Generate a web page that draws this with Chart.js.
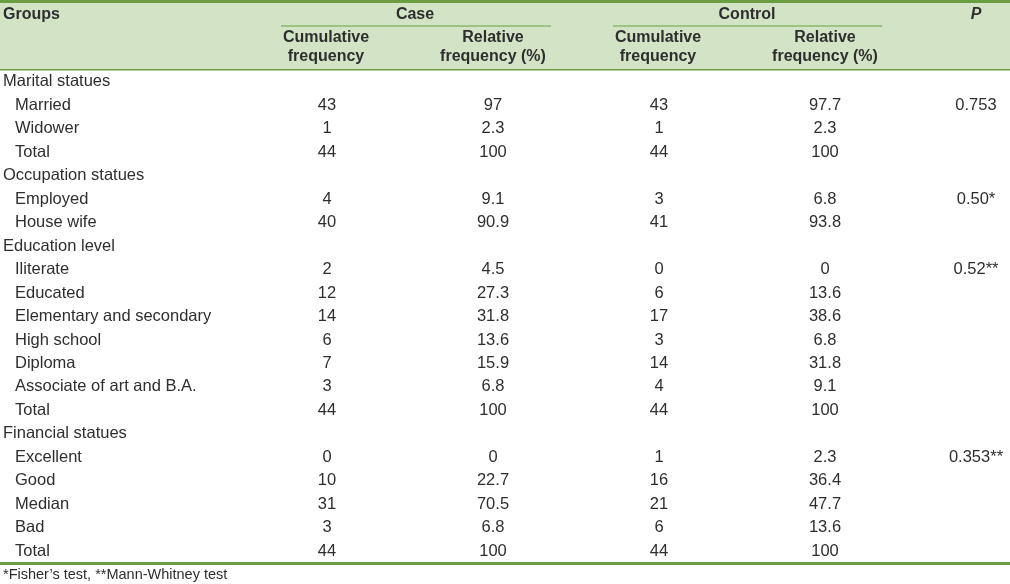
<!DOCTYPE html>
<html>
<head>
<meta charset="utf-8">
<script src="https://cdn.jsdelivr.net/npm/chart.js@4"></script>
<style>
  html, body { margin: 0; padding: 0; background: #fff; }
  #tableChart { display: block; }
</style>
</head>
<body>
<canvas id="tableChart" width="1010" height="584"></canvas>
<script>
// Table data
const rowLabels = ['Marital statues', 'Married', 'Widower', 'Total',
    'Occupation statues', 'Employed', 'House wife',
    'Education level', 'Iliterate', 'Educated', 'Elementary and secondary', 'High school',
    'Diploma', 'Associate of art and B.A.', 'Total',
    'Financial statues', 'Excellent', 'Good', 'Median', 'Bad', 'Total'];
const groupRows = [0, 4, 7, 15];
const caseCum = [null, 43, 1, 44, null, 4, 40, null, 2, 12, 14, 6, 7, 3, 44, null, 0, 10, 31, 3, 44];
const caseRel = [null, 97, 2.3, 100, null, 9.1, 90.9, null, 4.5, 27.3, 31.8, 13.6, 15.9, 6.8, 100, null, 0, 22.7, 70.5, 6.8, 100];
const ctrlCum = [null, 43, 1, 44, null, 3, 41, null, 0, 6, 17, 3, 14, 4, 44, null, 1, 16, 21, 6, 44];
const ctrlRel = [null, 97.7, 2.3, 100, null, 6.8, 93.8, null, 0, 13.6, 38.6, 6.8, 31.8, 9.1, 100, null, 2.3, 36.4, 47.7, 13.6, 100];
const pLabels = [null, '0.753', null, null, null, '0.50*', null, null, '0.52**', null, null, null,
    null, null, null, null, '0.353**', null, null, null, null];
const footnote = '*Fisher\u2019s test, **Mann-Whitney test';

// layout (x positions on the linear x scale)
const colX = { group: 3, item: 15, caseCum: 327, caseRel: 493, ctrlCum: 659, ctrlRel: 825, p: 976 };
const green = '#6b9d42';
const headBg = '#d3e4c6';
const textColor = '#2e2e2e';
const FONT = '"Liberation Sans", Arial, sans-serif';

function cellData(values, x) {
    const out = [];
    values.forEach((v, i) => {
        if (v !== null) out.push({ x: x, y: i, text: String(v) });
    });
    return out;
}

const labelData = rowLabels.map((t, i) => ({
    x: groupRows.includes(i) ? colX.group : colX.item, y: i, text: t
}));

const datasets = [
    { label: 'labels', data: labelData, align: 'left' },
    { label: 'caseCum', data: cellData(caseCum, colX.caseCum), align: 'center' },
    { label: 'caseRel', data: cellData(caseRel, colX.caseRel), align: 'center' },
    { label: 'ctrlCum', data: cellData(ctrlCum, colX.ctrlCum), align: 'center' },
    { label: 'ctrlRel', data: cellData(ctrlRel, colX.ctrlRel), align: 'center' },
    { label: 'p', data: cellData(pLabels, colX.p), align: 'center' }
];
datasets.forEach(d => { d.pointRadius = 0; d.pointHoverRadius = 0; });

// Draws header, rules and cell texts
const tablePlugin = {
    id: 'tablePlugin',
    beforeDraw(chart) {
        const ctx = chart.ctx;
        const xs = chart.scales.x;
        const w = chart.width;
        ctx.save();
        ctx.fillStyle = headBg;
        ctx.fillRect(0, 0, w, 70);
        ctx.fillStyle = green;
        ctx.fillRect(0, 0, w, 3);
        ctx.fillRect(0, 69, w, 1.5);
        ctx.fillRect(0, 562, w, 3);
        // spanning underlines
        ctx.fillRect(xs.getPixelForValue(281), 25.5, xs.getPixelForValue(551) - xs.getPixelForValue(281), 1);
        ctx.fillRect(xs.getPixelForValue(613), 25.5, xs.getPixelForValue(882) - xs.getPixelForValue(613), 1);

        ctx.fillStyle = textColor;
        ctx.textBaseline = 'middle';
        ctx.font = 'bold 16px ' + FONT;
        ctx.textAlign = 'left';
        ctx.fillText('Groups', xs.getPixelForValue(colX.group), 15);
        ctx.textAlign = 'center';
        ctx.fillText('Case', xs.getPixelForValue(415), 15);
        ctx.fillText('Control', xs.getPixelForValue(747), 15);
        ctx.font = 'italic bold 16px ' + FONT;
        ctx.fillText('P', xs.getPixelForValue(colX.p), 15);
        ctx.font = 'bold 16px ' + FONT;
        [colX.caseCum, colX.ctrlCum].forEach(x => {
            ctx.fillText('Cumulative', xs.getPixelForValue(x - 1), 38);
            ctx.fillText('frequency', xs.getPixelForValue(x - 1), 57);
        });
        [colX.caseRel, colX.ctrlRel].forEach(x => {
            ctx.fillText('Relative', xs.getPixelForValue(x), 38);
            ctx.fillText('frequency (%)', xs.getPixelForValue(x), 57);
        });

        ctx.font = '14.5px ' + FONT;
        ctx.textAlign = 'left';
        ctx.fillText(footnote, 3, 575);
        ctx.restore();
    },
    afterDatasetsDraw(chart) {
        const ctx = chart.ctx;
        ctx.save();
        ctx.fillStyle = textColor;
        ctx.font = '16.5px ' + FONT;
        ctx.textBaseline = 'middle';
        chart.data.datasets.forEach((ds, di) => {
            const meta = chart.getDatasetMeta(di);
            ctx.textAlign = ds.align;
            meta.data.forEach((pt, j) => {
                ctx.fillText(ds.data[j].text, pt.x, pt.y);
            });
        });
        ctx.restore();
    }
};

new Chart(document.getElementById('tableChart').getContext('2d'), {
    type: 'scatter',
    data: { datasets: datasets },
    options: {
        responsive: false,
        devicePixelRatio: 1,
        animation: false,
        layout: { padding: { top: 70, bottom: 21, left: 0, right: 0 } },
        plugins: { legend: { display: false }, tooltip: { enabled: false } },
        scales: {
            x: { type: 'linear', min: 0, max: 1010, display: false },
            y: { type: 'linear', min: -0.5, max: 20.5, reverse: true, display: false }
        }
    },
    plugins: [tablePlugin]
});
</script>
</body>
</html>
